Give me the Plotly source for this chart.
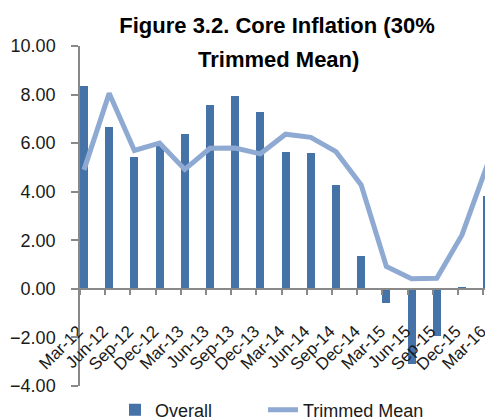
import plotly.graph_objects as go

categories = ["Mar-12", "Jun-12", "Sep-12", "Dec-12", "Mar-13", "Jun-13", "Sep-13", "Dec-13",
              "Mar-14", "Jun-14", "Sep-14", "Dec-14", "Mar-15", "Jun-15", "Sep-15", "Dec-15", "Mar-16"]
overall = [8.35, 6.68, 5.43, 5.90, 6.37, 7.57, 7.96, 7.30, 5.62, 5.60, 4.28, 1.37, -0.59, -3.10, -1.93, 0.08, 3.83]
trimmed = [4.90, 8.05, 5.70, 6.00, 4.92, 5.79, 5.80, 5.56, 6.37, 6.24, 5.65, 4.28, 0.92, 0.42, 0.44, 2.22, 5.10]
y_ticks = [-4, -2, 0, 2, 4, 6, 8, 10]

BAR = "#4572A7"
LINE = "#8FAAD2"
AXIS = "#898989"
TXT = "#1a1a1a"
FONT = "Liberation Sans, Arial, sans-serif"

# page body has an 8px default margin; figure drawn at page offset (8, 8)
W, H = 485, 412
PL, PT, PW, PH = 72, 38, 413, 340  # plot area within the figure

fig = go.Figure()
fig.add_trace(go.Bar(x=categories, y=overall, name="Overall", marker=dict(color=BAR, line=dict(width=0)),
                     offset=0, width=0.317, xaxis="x", yaxis="y", legend="legend"))
fig.add_trace(go.Scatter(x=categories, y=trimmed, name="Trimmed Mean", mode="lines",
                         line=dict(color=LINE, width=5), xaxis="x2", yaxis="y", legend="legend2"))

legend_common = dict(orientation="h", xanchor="left", y=-0.071, yanchor="middle",
                     font=dict(size=18, color=TXT), bgcolor="rgba(0,0,0,0)")

fig.update_layout(
    width=W, height=H,
    margin=dict(l=PL, r=W - PL - PW, t=PT, b=H - PT - PH, autoexpand=False),
    paper_bgcolor="white", plot_bgcolor="white",
    font=dict(family=FONT, size=18, color=TXT),
    showlegend=True,
    legend=dict(x=35 / PW, **legend_common),
    legend2=dict(x=183 / PW, **legend_common),
    title=dict(text="<b>Figure 3.2. Core Inflation (30%</b>", x=(277 - 80) / PW, xref="paper",
               xanchor="center", y=1 - 17 / H, yref="container", yanchor="middle",
               font=dict(size=22, color="black", family=FONT)),
    annotations=[dict(text="<b>Trimmed Mean)</b>", x=(278 - 80) / PW, xref="paper", y=(386 - 60) / PH,
                      yref="paper", xanchor="center", yanchor="middle", showarrow=False,
                      font=dict(size=22, color="black", family=FONT))],
    bargap=0,
    xaxis=dict(type="category", categoryorder="array", categoryarray=categories,
               range=[0, PW / 25.2], anchor="free", position=4 / 14,
               showline=True, linecolor=AXIS, linewidth=1.5,
               ticks="outside", ticklen=5, tickcolor=AXIS, tickwidth=1.5,
               tickangle=-45, ticklabelshift=-2, ticklabelstandoff=20,
               tickfont=dict(size=17, color=TXT), showgrid=False, zeroline=False),
    xaxis2=dict(type="category", categoryorder="array", categoryarray=categories, overlaying="x",
                range=[-0.158, PW / 25.2 - 0.158], visible=False, showgrid=False, zeroline=False),
    yaxis=dict(range=[-4, 10], tickvals=y_ticks, tickformat=".2f",
               showline=True, linecolor=AXIS, linewidth=1.5,
               ticks="outside", ticklen=7, tickcolor=AXIS, tickwidth=1.5,
               ticklabelstandoff=12, tickfont=dict(size=18, color=TXT),
               showgrid=False, zeroline=False),
)

fig.write_html("out.html")
